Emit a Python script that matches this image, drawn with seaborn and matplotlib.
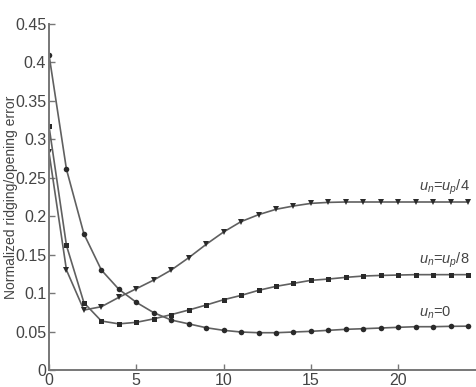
import numpy as np
import pandas as pd
import matplotlib
matplotlib.use("Agg")
import matplotlib.pyplot as plt
import seaborn as sns

# ---- data ----
x_vals = list(range(0, 25))
err_up4 = [0.283, 0.130, 0.078, 0.0823, 0.0945, 0.1057, 0.117, 0.130, 0.146, 0.1634,
           0.1795, 0.193, 0.202, 0.209, 0.2133, 0.2167, 0.218, 0.2185, 0.2185, 0.2185,
           0.2185, 0.2185, 0.2185, 0.2185, 0.2185]
err_up8 = [0.317, 0.162, 0.0875, 0.0637, 0.060, 0.062, 0.0665, 0.072, 0.078, 0.0845,
           0.0914, 0.097, 0.1036, 0.1088, 0.1127, 0.1166, 0.1183, 0.1205, 0.1222, 0.123,
           0.1235, 0.124, 0.124, 0.124, 0.124]
err_zero = [0.410, 0.261, 0.177, 0.130, 0.105, 0.088, 0.0745, 0.065, 0.060, 0.055,
            0.0516, 0.0494, 0.0485, 0.0485, 0.0494, 0.0503, 0.0516, 0.0529, 0.0537, 0.0546,
            0.0555, 0.0563, 0.0563, 0.0568, 0.057]
series_names = ["up4", "up8", "zero"]
series_labels = [r"$u_n$=$u_p$/4", r"$u_n$=$u_p$/8", r"$u_n$=0"]
label_pos = [(21.2, 0.238), (21.2, 0.143), (21.2, 0.075)]
x_ticks = [0, 5, 10, 15, 20]
y_ticks = [0, 0.05, 0.1, 0.15, 0.2, 0.25, 0.3, 0.35, 0.4, 0.45]
y_tick_labels = ["0", "0.05", "0.1", "0.15", "0.2", "0.25", "0.3", "0.35", "0.4", "0.45"]
y_label = "Normalized ridging/opening error"

df = pd.DataFrame({
    "x": x_vals * 3,
    "y": err_up4 + err_up8 + err_zero,
    "series": [series_names[0]] * len(x_vals) + [series_names[1]] * len(x_vals)
              + [series_names[2]] * len(x_vals),
})

sns.set_style("ticks")
plt.rcParams["font.family"] = ["Liberation Sans", "DejaVu Sans"]
plt.rcParams["mathtext.fontset"] = "custom"
plt.rcParams["mathtext.rm"] = "Liberation Sans"
plt.rcParams["mathtext.it"] = "Liberation Sans:italic"

fig = plt.figure(figsize=(4.76, 3.87), dpi=100)
W, H = 476, 387
px_per_x = 17.46
ax_w_px = 30 * px_per_x
ax = fig.add_axes([49 / W, (H - 370) / H, ax_w_px / W, 346 / H])

line_col = "#606060"
sns.lineplot(data=df, x="x", y="y", hue="series", style="series",
             palette={n: line_col for n in series_names},
             markers={"up4": "v", "up8": "s", "zero": "o"},
             dashes=False, legend=False, ax=ax, linewidth=1.2,
             markersize=4.0, markeredgewidth=0)
for line in ax.lines:
    line.set_markerfacecolor("#2a2a2a")
    line.set_markeredgecolor("#2a2a2a")
    if line.get_marker() == "s":
        line.set_markersize(3.6)

ax.set_xlim(0, 30)
ax.set_ylim(0, 0.45)
ax.set_xticks(x_ticks)
ax.set_xticklabels([str(t) for t in x_ticks])
ax.set_yticks(y_ticks)
ax.set_yticklabels(y_tick_labels)
ax.set_xlabel("")
ax.set_ylabel(y_label, fontsize=10, color="#444444")
ax.yaxis.set_label_coords((18 - 49) / ax_w_px, 0.5)

for s in ["top", "right"]:
    ax.spines[s].set_visible(False)
for s in ["left", "bottom"]:
    ax.spines[s].set_color("#777777")
    ax.spines[s].set_linewidth(1.4)
ax.tick_params(direction="in", length=4, width=1, color="#777777",
               labelsize=11.5, labelcolor="#444444", pad=2)

for (lx, ly), lab in zip(label_pos, series_labels):
    ax.text(lx, ly, lab, fontsize=10.5, color="#444444", ha="left", va="center",
            clip_on=False)

fig.savefig("out.png", dpi=100)
